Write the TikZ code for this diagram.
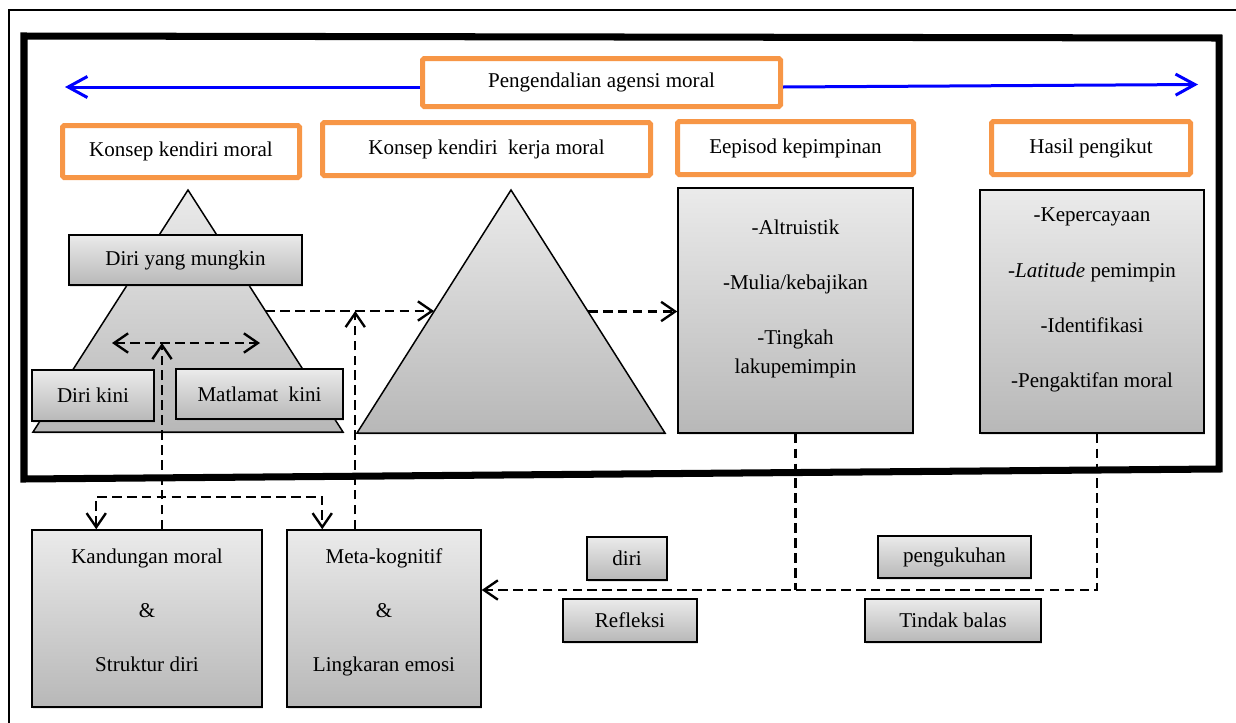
\documentclass[tikz,border=0pt]{standalone}
\usepackage{fontspec}
\setmainfont{Liberation Serif}
\usetikzlibrary{arrows.meta,calc,shadows}
\newcommand\pxu{0.57pt}
\definecolor{accentorange}{HTML}{F79646}
\definecolor{linkblue}{RGB}{0,0,255}
\tikzset{
  openbarb/.tip={Straight Barb[length=8pt,width=11pt]},
  bluebarb/.tip={Straight Barb[length=11pt,width=12pt]}
}

\begin{document}
\begin{tikzpicture}[x=\pxu, y=-\pxu,
		every node/.style={font=\fontsize{12}{16.8}\selectfont, inner sep=0pt},
		wh/.style 2 args={minimum width=#1*\pxu, minimum height=#2*\pxu},
		orangebox/.style={draw=accentorange, line width=5*\pxu, fill=white, rounded corners=1pt},
		graybox/.style={draw=black, line width=0.85pt, top color=black!8, bottom color=black!28,
			drop shadow={shadow xshift=0.6pt, shadow yshift=-1.2pt, opacity=0.2}},
		itemtext/.style={align=center},
		blueline/.style={draw=linkblue, line width=3*\pxu, -bluebarb},
		flow/.style={draw=black, line width=1.35pt, dash pattern=on 5.5pt off 3pt}
		]
	\useasboundingbox (0,0) rectangle (1236,722);
	\draw[line width=1.1pt] (9,10) rectangle (1245,735);
	\draw[line width=4pt, line join=miter] (24,36) -- (1219,38) -- (1219,469) -- (24,479) -- cycle;

	\coordinate (sA) at (188,190);
	\coordinate (sL) at (33,432);
	\coordinate (sR) at (343,432);
	\coordinate (bA) at (511,190);
	\coordinate (bL) at (357,433);
	\coordinate (bR) at (665,433);
	\draw[graybox] (sL) -- (sA) -- (sR) -- cycle;
	\draw[graybox] (bL) -- (bA) -- (bR) -- cycle;

	\node[orangebox, wh={358}{48}] (pam) at (601.5,82.5) {Pengendalian agensi moral};
	\node[orangebox, wh={237}{52}] (kkm) at (181,151.5) {Konsep kendiri moral};
	\node[orangebox, wh={328}{53}] (kkkm) at (486.5,149) {Konsep kendiri~ kerja moral};
	\node[orangebox, wh={236}{53}] (ek) at (795.5,148) {Eepisod kepimpinan};
	\node[orangebox, wh={199}{53}] (hp) at (1091,148) {Hasil pengikut};

	\node[graybox, wh={233}{50}] (dym) at (185.5,260) {Diri yang mungkin};
	\node[graybox, wh={122}{51}] (dk) at (93,395.5) {Diri kini};
	\node[graybox, wh={167}{50}] (mk) at (259.5,394) {Matlamat~ kini};
	\node[graybox, wh={235}{245}] (epi) at (795.5,310.5) {};
	\node[graybox, wh={224}{243}] (has) at (1092,311.5) {};
	\node[graybox, wh={230}{177}] (kand) at (147,618.5) {};
	\node[graybox, wh={194}{177}] (meta) at (384,618.5) {};
	\node[graybox, wh={80}{43}] (diri) at (627,558.5) {diri};
	\node[graybox, wh={134}{43}] (refl) at (630,620.5) {Refleksi};
	\node[graybox, wh={153}{42}] (peng) at (954.5,557) {pengukuhan};
	\node[graybox, wh={176}{43}] (tb) at (953,620.5) {Tindak balas};

	\node[itemtext] (epiT) at ($(epi.center)+(0,-11.5)$)
		{-Altruistik\\[14.6pt] -Mulia/kebajikan\\[14.6pt] -Tingkah\\ lakupemimpin};
	\node[itemtext] (hasT) at ($(has.center)+(0,-11.5)$)
		{-Kepercayaan\\[14.6pt] -\textit{Latitude} pemimpin\\[14.6pt] -Identifikasi\\[14.6pt] -Pengaktifan moral};
	\node[itemtext] (kandT) at ($(kand.center)+(0,-8.5)$)
		{Kandungan moral\\[14pt] \&\\[14pt] Struktur diri};
	\node[itemtext] (metaT) at ($(meta.center)+(0,-6.5)$)
		{Meta-kognitif\\[14pt] \&\\[14pt] Lingkaran emosi};

	\coordinate (blueL) at (65,87);
	\coordinate (blueR) at (1198,84.5);
	\draw[blueline] ($(pam.west)+(0,4.5)$) -- (blueL);
	\draw[blueline] ($(pam.east)+(0,4.5)$) -- (blueR);

	\coordinate (sMid) at ($(sA)!0.5!(sR)$);
	\coordinate (bMidL) at ($(bA)!0.5!(bL)$);
	\coordinate (bMidR) at ($(bA)!0.5!(bR)$);
	\draw[flow, -openbarb] (sMid) -- (sMid -| bMidL);
	\draw[flow, -openbarb] (bMidR) -- (bMidR -| epi.west);

	\coordinate (dL) at (112,343);
	\coordinate (dR) at (260,343);
	\draw[flow, openbarb-openbarb] (dL) -- (dR);
	\coordinate (kUp) at ($(kand.north)+(15,0)$);
	\draw[flow, -openbarb] (kUp) -- (kUp |- dL);

	\coordinate (kDn) at ($(kand.north west)+(65,0)$);
	\coordinate (mDn) at ($(meta.north west)+(36,0)$);
	\coordinate (brY) at (210,497);
	\draw[flow, openbarb-openbarb] (kDn) |- (brY) -| (mDn);
	\coordinate (mUp) at ($(meta.north west)+(69,0)$);
	\draw[flow, -openbarb] (mUp) -- (mUp |- sMid);

	\coordinate (fbY) at (0,590);
	\draw[flow] (epi.south) -- (epi.south |- fbY);
	\draw[flow, -openbarb] ($(has.south)+(5,0)$) |- (meta.east |- fbY);
\end{tikzpicture}
\end{document}
